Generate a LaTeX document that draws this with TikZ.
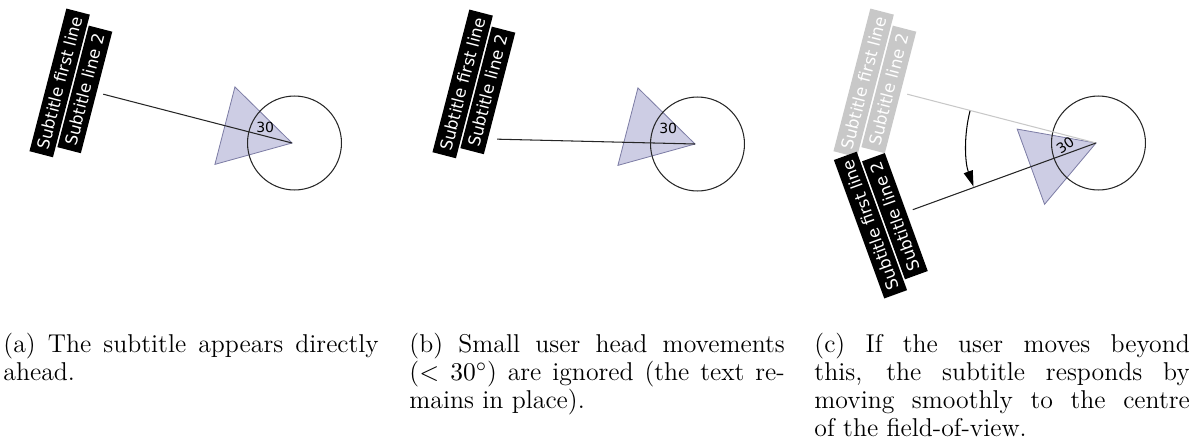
\documentclass[tikz,border=0pt]{standalone}
\usepackage{fontspec}
\newfontfamily\subfont{DejaVu Sans}
\usetikzlibrary{calc,arrows.meta}
\definecolor{fovfill}{RGB}{205,205,228}
\definecolor{fovline}{RGB}{125,125,165}
\definecolor{oldgray}{RGB}{200,200,200}
\tikzset{
  subbox/.style={fill=black, text=white, inner xsep=2.3pt, inner ysep=0pt,
    minimum height=10.4pt, font=\subfont\fontsize{7.1pt}{8pt}\selectfont},
  oldbox/.style={subbox, fill=oldgray},
  fov/.style={fill=fovfill, draw=fovline, line width=0.35pt},
  head/.style={circle, draw=black!85, line width=0.45pt, inner sep=0pt, minimum size=40.3pt},
  gaze/.style={draw=black!85, line width=0.45pt},
  oldgaze/.style={draw=oldgray, line width=0.45pt},
  deg/.style={inner sep=0pt, font=\subfont\fontsize{6pt}{7pt}\selectfont},
  turn/.style={draw=black, line width=0.45pt, -{Triangle[length=6.8pt,width=4pt]}},
  caption/.style={anchor=north west, inner sep=0pt, text width=161pt, align=justify,
    font=\fontsize{11.05pt}{12pt}\selectfont}
}
\begin{document}
\begin{tikzpicture}[x=0.428932pt, y=0.428932pt]
\useasboundingbox (0,0) rectangle (1189,-441);

% ---------- (a) subtitle straight ahead ----------
\coordinate (Aa) at (292,-143);
\draw[fov] (Aa) -- ($(Aa)+(135.5:80)$) -- ($(Aa)+(195.5:80)$) -- cycle;
\node[head] (Ha) at ($(Aa)+(2.5,0)$) {};
\coordinate (Sa) at ($(Aa)+(165.5:227)$);
\node[subbox, rotate=75.5] (a1) at ($(Sa)+(165.5:13)$) {Subtitle first line};
\node[subbox, rotate=75.5] (a2) at ($(Sa)+(345.5:13)$) {Subtitle line 2};
\coordinate (Ga) at ($(Aa)+(165.5:195)$);
\draw[gaze] (Ga) -- (Aa);
\node[deg] (Da) at ($(Aa)+(150:31)$) {30};

% ---------- (b) small head movement ----------
\coordinate (Ab) at (695,-144);
\draw[fov] (Ab) -- ($(Ab)+(135.5:80)$) -- ($(Ab)+(195.5:80)$) -- cycle;
\node[head] (Hb) at ($(Ab)+(2.5,0)$) {};
\coordinate (Sb) at ($(Ab)+(165.5:227)$);
\node[subbox, rotate=75.5] (b1) at ($(Sb)+(165.5:13)$) {Subtitle first line};
\node[subbox, rotate=75.5] (b2) at ($(Sb)+(345.5:13)$) {Subtitle line 2};
\coordinate (Gb) at ($(Ab)+(178.6:198)$);
\draw[gaze] (Gb) -- (Ab);
\node[deg] (Db) at ($(Ab)+(150:31)$) {30};

% ---------- (c) subtitle follows the head ----------
\coordinate (Ac) at (1096,-143);
\draw[fov] (Ac) -- ($(Ac)+(170:80)$) -- ($(Ac)+(230:80)$) -- cycle;
\node[head] (Hc) at ($(Ac)+(2.5,0)$) {};
% previous position, greyed out
\coordinate (Sc0) at ($(Ac)+(165.5:227)$);
\node[oldbox, rotate=75.5] (c01) at ($(Sc0)+(165.5:13)$) {Subtitle first line};
\node[oldbox, rotate=75.5] (c02) at ($(Sc0)+(345.5:13)$) {Subtitle line 2};
\coordinate (Gc0) at ($(Ac)+(165.5:195)$);
\draw[oldgaze] (Gc0) -- (Ac);
% new position
\coordinate (Sc) at ($(Ac)+(200:227)$);
\node[subbox, rotate=110] (c1) at ($(Sc)+(200:13)$) {Subtitle first line};
\node[subbox, rotate=110] (c2) at ($(Sc)+(20:13)$) {Subtitle line 2};
\coordinate (Gc) at ($(Ac)+(200:195)$);
\draw[gaze] (Gc) -- (Ac);
\node[deg, rotate=35] (Dc) at ($(Ac)+(185:31)$) {30};
% rotation of the subtitle
\coordinate (Tc) at ($(Ac)+(165.7:130)$);
\draw[turn] (Tc) arc[start angle=165.7, end angle=199.6, radius=130];

% ---------- captions ----------
\node[caption] (capa) at (3,-333) {(a) The subtitle appears directly\linebreak ahead.};
\node[caption] (capb) at (409,-333) {(b) Small user head movements\linebreak ($<30^\circ$) are ignored (the text re-\linebreak mains in place).};
\node[caption] (capc) at (814,-333) {(c) If the user moves beyond\linebreak this, the subtitle responds by\linebreak moving smoothly to the centre\linebreak of the field-of-view.};
\end{tikzpicture}
\end{document}
